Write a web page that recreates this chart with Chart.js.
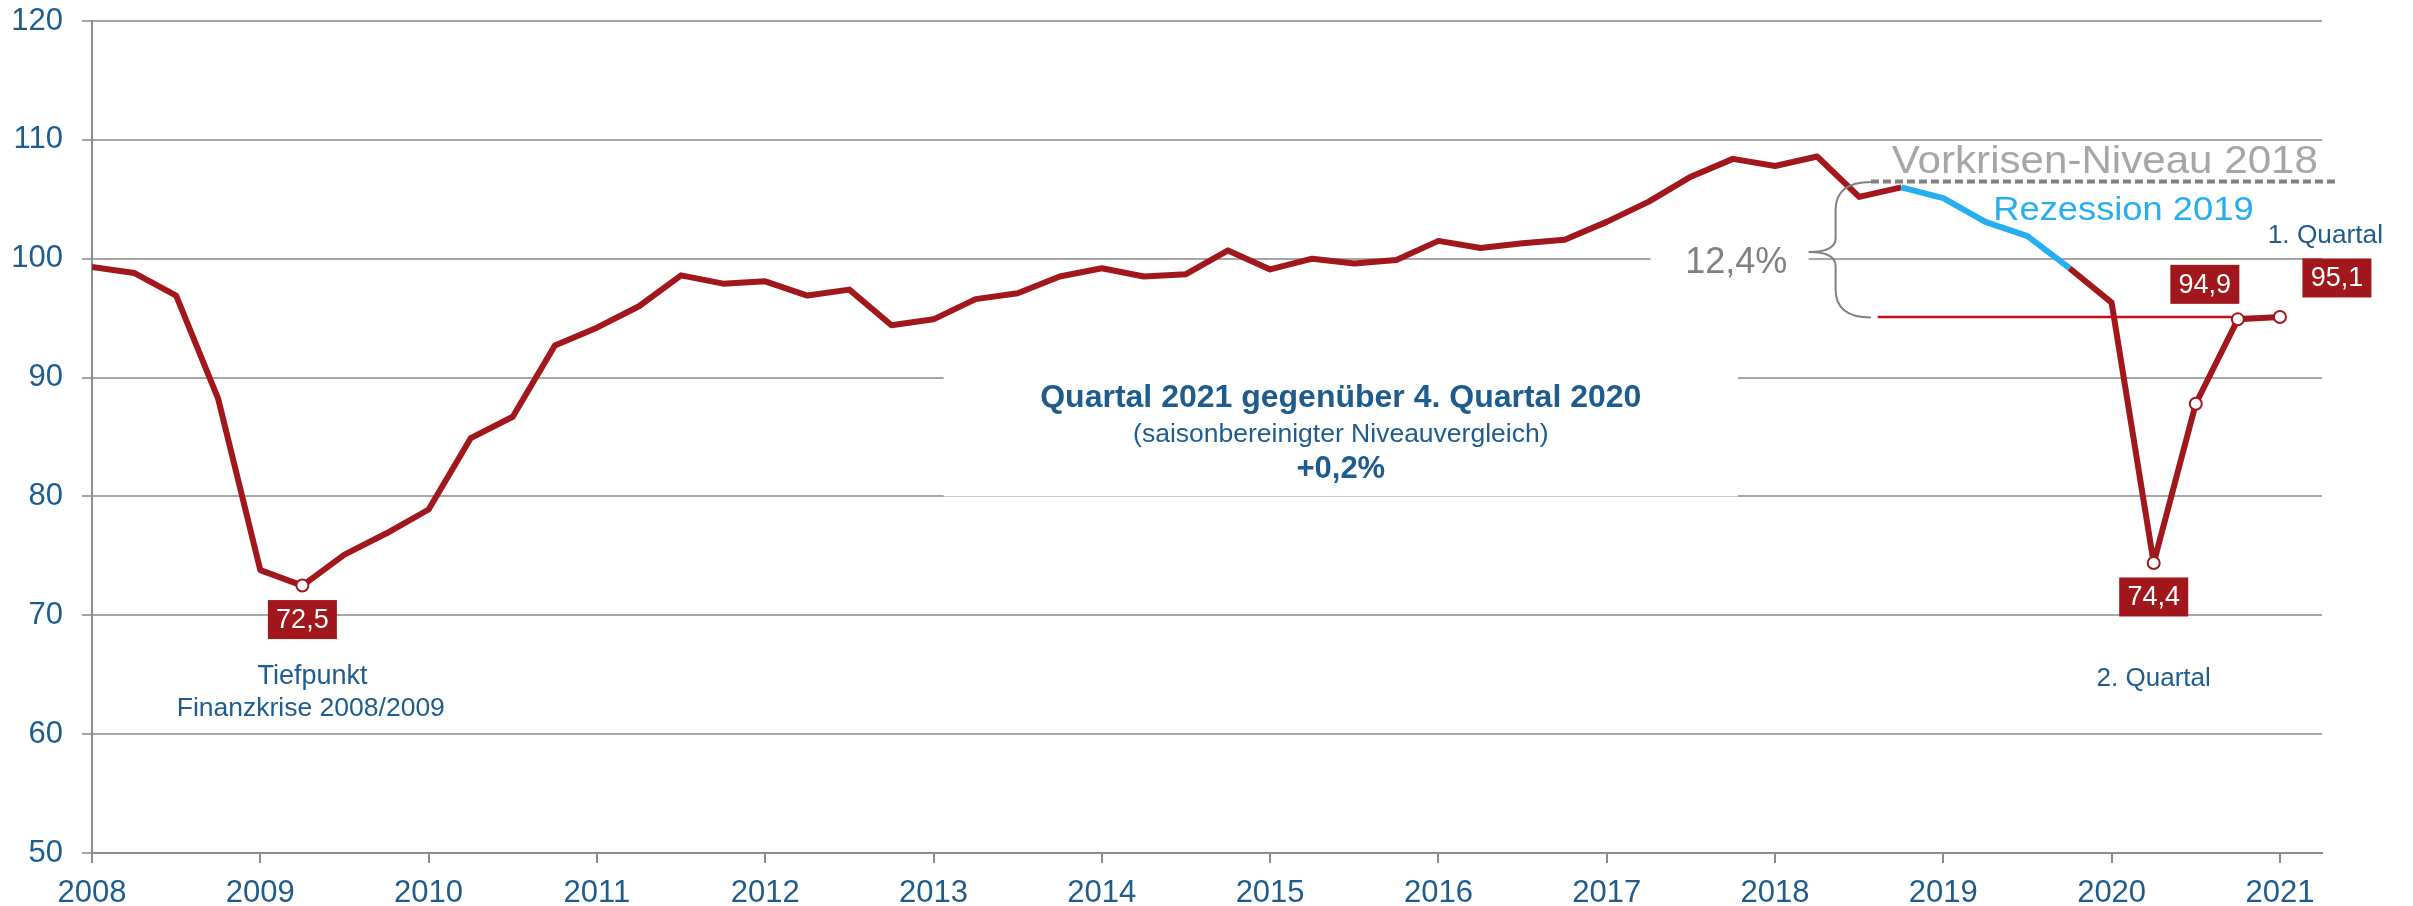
<!DOCTYPE html>
<html>
<head>
<meta charset="utf-8">
<script src="https://cdn.jsdelivr.net/npm/chart.js@4.4.1/dist/chart.umd.min.js"></script>
<style>
  html, body { margin: 0; padding: 0; background: #fff; }
  #wrap { width: 2413px; height: 906px; }
</style>
</head>
<body>
<div id="wrap"><canvas id="gdp-chart"></canvas></div>
<script>
// quarterly index, 2008 Q1 .. 2021 Q1
const firstYear = 2008;
const yearTicks = [2008, 2009, 2010, 2011, 2012, 2013, 2014, 2015, 2016, 2017, 2018, 2019, 2020, 2021];
const indexValues = [
    99.3, 98.8, 96.9, 88.2,
    73.8, 72.5, 75.1, 76.9,
    78.9, 84.9, 86.7, 92.7,
    94.2, 96.0, 98.6, 97.9,
    98.1, 96.9, 97.4, 94.4,
    94.9, 96.6, 97.1, 98.5,
    99.2, 98.5, 98.7, 100.7,
    99.1, 100.0, 99.6, 99.9,
    101.5, 100.9, 101.3, 101.6,
    103.1, 104.8, 106.9, 108.4,
    107.8, 108.6, 105.2, 106.0,
    105.1, 103.1, 101.9, 99.2,
    96.3, 74.4, 87.8, 94.9,
    95.1
];
const markedPoints = [5, 49, 50, 51, 52];          // hollow markers
const recessionStart = 43, recessionEnd = 47;       // 2018 Q4 .. 2019 Q4 in blue
const preCrisisLevel = 106.5;
const preCrisisRange = [2018.57, 2021.35];
const currentLevel = 95.1;
const currentRange = [2018.61, 2021];

const RED = '#A2171B';
const BLUE = '#25AFF0';
const NAVY = '#1D5C8C';
const GREY = '#808080';
const FONT = '"Liberation Sans", Arial, sans-serif';

const points = indexValues.map((v, i) => ({x: firstYear + i / 4, y: v}));

// value boxes: index of point, pixel offset of box centre from the point
const valueBoxes = [
    {i: 5, dx: 0, dy: 34},
    {i: 49, dx: 0, dy: 34},
    {i: 51, dx: -33, dy: -35},
    {i: 52, dx: 57, dy: -39}
];

// x, y = text baseline centre in data units; sx = horizontal stretch
const notes = [
    {text: 'Tiefpunkt', x: 2009.31, y: 64.19, size: 27, color: NAVY},
    {text: 'Finanzkrise 2008/2009', x: 2009.30, y: 61.55, size: 26.5, color: NAVY},
    {text: '2. Quartal', x: 2020.25, y: 64.09, size: 26, color: NAVY},
    {text: '1. Quartal', x: 2021.27, y: 101.33, size: 25, sx: 1.05, color: NAVY},
    {text: 'Rezession 2019', x: 2020.07, y: 103.24, size: 33, sx: 1.1, color: BLUE},
    {text: 'Vorkrisen-Niveau 2018', x: 2019.96, y: 107.22, size: 39, sx: 1.08, color: '#A6A6A6'},
    {text: '12,4%', x: 2017.77, y: 98.81, size: 36, color: GREY},
    {text: 'Quartal 2021 gegenüber 4. Quartal 2020', x: 2015.42, y: 87.54, size: 32, color: NAVY, bold: true},
    {text: '(saisonbereinigter Niveauvergleich)', x: 2015.42, y: 84.59, size: 26.5, color: NAVY},
    {text: '+0,2%', x: 2015.42, y: 81.56, size: 31, color: NAVY, bold: true}
];

const annotate = {
    id: 'annotate',
    beforeDatasetsDraw(chart) {
        const {ctx, scales: {x, y}} = chart;
        ctx.save();
        ctx.fillStyle = '#fff';
        // white panel that hides the grid behind the centre text
        const top = y.getPixelForValue(90) - 3;
        const left = x.getPixelForValue(2013.06);
        const right = x.getPixelForValue(2017.78);
        ctx.fillRect(left, top, right - left, y.getPixelForValue(80) - top);
        // gap in the 100 line behind the percentage
        const gl = x.getPixelForValue(2017.26);
        const gr = x.getPixelForValue(2018.2);
        const gt = y.getPixelForValue(101.2);
        ctx.fillRect(gl, gt, gr - gl, y.getPixelForValue(98.6) - gt);
        ctx.restore();
    },
    afterDatasetsDraw(chart) {
        const {ctx, scales: {x, y}} = chart;
        ctx.save();

        // curly brace between pre-crisis level and current level
        const xr = x.getPixelForValue(2018.57);
        const xs = x.getPixelForValue(2018.36);
        const xt = x.getPixelForValue(2018.2);
        const yt = y.getPixelForValue(106.46);
        const ym = y.getPixelForValue(100.57);
        const yb = y.getPixelForValue(95.05);
        ctx.strokeStyle = GREY;
        ctx.lineWidth = 2;
        ctx.beginPath();
        ctx.moveTo(xr, yt);
        ctx.quadraticCurveTo(xs, yt, xs, yt + 28);
        ctx.lineTo(xs, ym - 14);
        ctx.quadraticCurveTo(xs, ym, xt, ym);
        ctx.quadraticCurveTo(xs, ym, xs, ym + 14);
        ctx.lineTo(xs, yb - 28);
        ctx.quadraticCurveTo(xs, yb, xr, yb);
        ctx.stroke();

        // value boxes
        ctx.textAlign = 'center';
        ctx.textBaseline = 'middle';
        ctx.font = '27px ' + FONT;
        valueBoxes.forEach(b => {
            const cx = x.getPixelForValue(points[b.i].x) + b.dx;
            const cy = y.getPixelForValue(points[b.i].y) + b.dy;
            ctx.fillStyle = RED;
            ctx.fillRect(cx - 34.5, cy - 19.5, 69, 39);
            ctx.fillStyle = '#fff';
            ctx.fillText(indexValues[b.i].toFixed(1).replace('.', ','), cx, cy + 1);
        });

        // texts
        ctx.textBaseline = 'alphabetic';
        notes.forEach(n => {
            ctx.save();
            ctx.font = (n.bold ? 'bold ' : '') + n.size + 'px ' + FONT;
            ctx.fillStyle = n.color;
            ctx.translate(x.getPixelForValue(n.x), y.getPixelForValue(n.y));
            ctx.scale(n.sx || 1, 1);
            ctx.fillText(n.text, 0, 0);
            ctx.restore();
        });
        ctx.restore();
    }
};

new Chart(document.getElementById('gdp-chart'), {
    type: 'line',
    data: {
        datasets: [
            {
                label: 'BIP',
                data: points,
                borderColor: RED,
                borderWidth: 6,
                borderJoinStyle: 'round',
                tension: 0,
                pointRadius: points.map((p, i) => markedPoints.includes(i) ? 6 : 0),
                pointBorderWidth: 2,
                pointBackgroundColor: '#fff',
                pointBorderColor: RED,
                segment: {
                    borderColor: c => (c.p0DataIndex >= recessionStart && c.p0DataIndex < recessionEnd) ? BLUE : RED
                },
                order: 1
            },
            {
                label: 'Niveau 1. Quartal 2021',
                data: currentRange.map(v => ({x: v, y: currentLevel})),
                borderColor: '#C80F14',
                borderWidth: 2.5,
                pointRadius: 0,
                order: 3
            },
            {
                label: 'Vorkrisen-Niveau 2018',
                data: preCrisisRange.map(v => ({x: v, y: preCrisisLevel})),
                borderColor: GREY,
                borderWidth: 4,
                borderDash: [8, 4],
                pointRadius: 0,
                clip: false,
                order: 2
            }
        ]
    },
    options: {
        responsive: true,
        maintainAspectRatio: false,
        animation: false,
        layout: {padding: {top: 21, right: 91, left: 0, bottom: 0}},
        plugins: {
            legend: {display: false},
            tooltip: {enabled: false}
        },
        scales: {
            x: {
                type: 'linear',
                min: 2008,
                max: 2021.25,
                afterBuildTicks: scale => {
                    scale.ticks = yearTicks.map(v => ({value: v}));
                },
                afterFit: scale => { scale.height = 53; },
                ticks: {
                    callback: v => String(v),
                    color: NAVY,
                    font: {family: FONT, size: 31},
                    padding: 12,
                    maxRotation: 0
                },
                grid: {
                    drawOnChartArea: false,
                    drawTicks: true,
                    tickLength: 10,
                    color: '#8C8C8C',
                    lineWidth: 2
                },
                border: {color: '#8C8C8C', width: 2}
            },
            y: {
                min: 50,
                max: 120,
                afterFit: scale => {
                    scale.width = 92;
                    // label padding is horizontal only here
                    scale.paddingTop = 0;
                    scale.paddingBottom = 0;
                },
                ticks: {
                    stepSize: 10,
                    color: NAVY,
                    font: {family: FONT, size: 31},
                    padding: 19
                },
                grid: {
                    color: '#A6A6A6',
                    lineWidth: 2,
                    tickLength: 10
                },
                border: {color: '#8C8C8C', width: 2}
            }
        }
    },
    plugins: [annotate]
});
</script>
</body>
</html>
